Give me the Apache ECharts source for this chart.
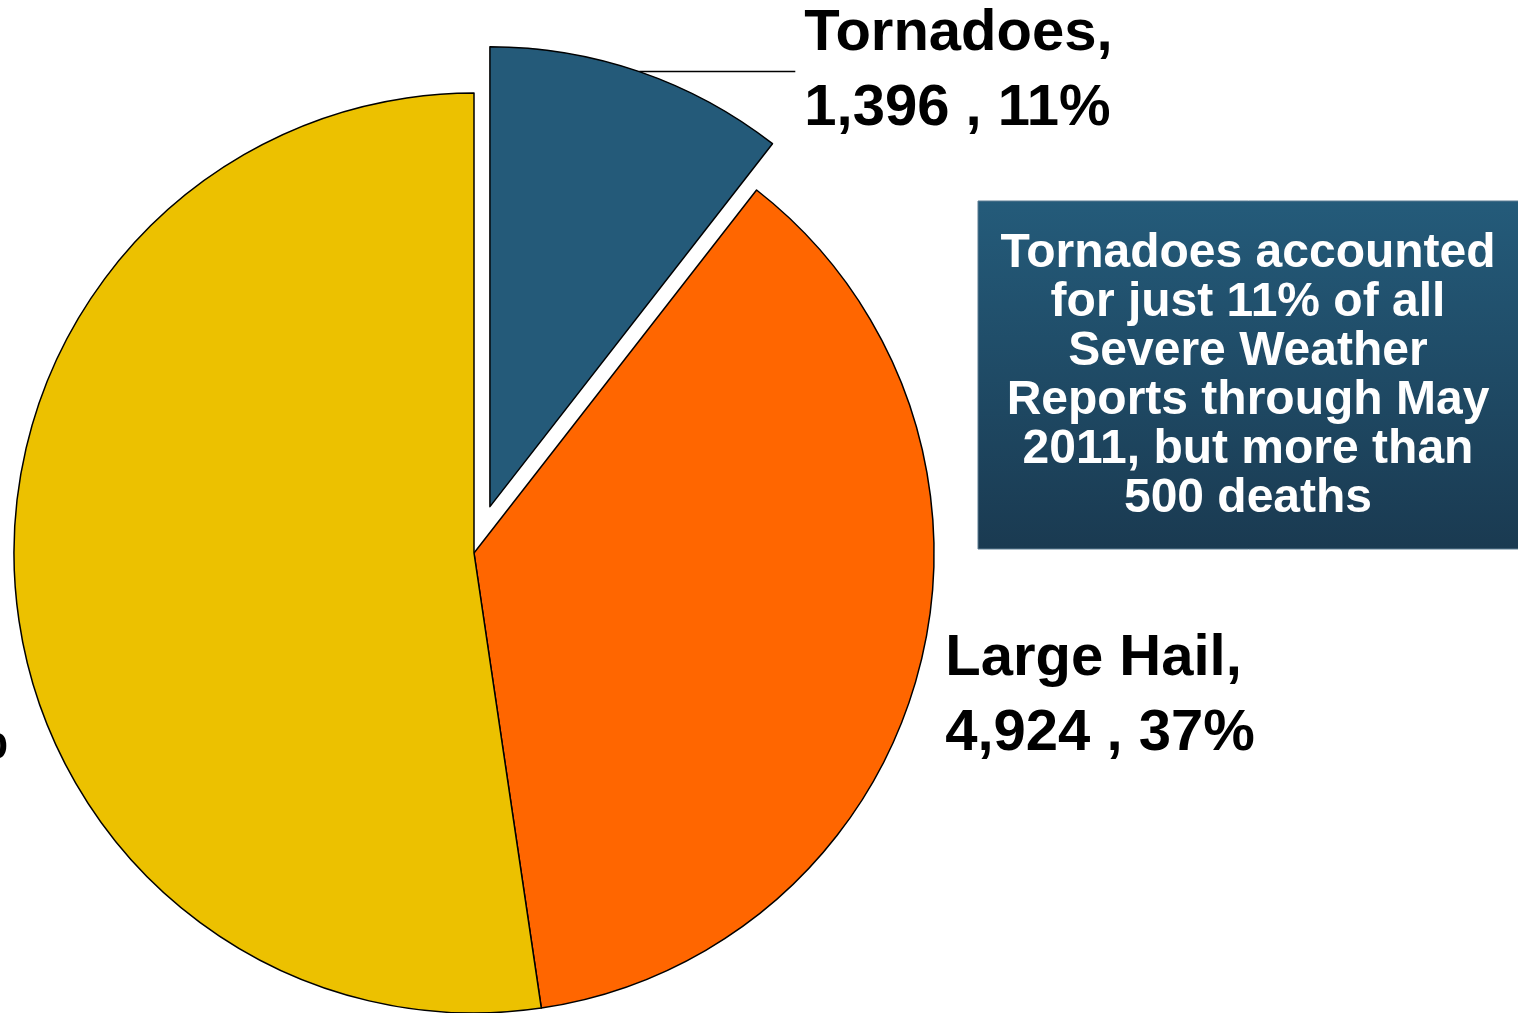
<!DOCTYPE html>
<html>
<head>
<meta charset="utf-8">
<script src="https://cdn.jsdelivr.net/npm/echarts@6/dist/echarts.min.js"></script>
<style>
html,body{margin:0;padding:0;background:#fff;}
#chart{width:1518px;height:1013px;}
</style>
</head>
<body>
<div id="chart"></div>
<script>
// ---- data ----
var categories = ['Tornadoes', 'Large Hail', 'Wind'];
var reports = [1396, 4924, 6940];
var sliceColors = ['#245a79', '#ff6600', '#ecc100'];
var noteLines = [
  'Tornadoes accounted',
  'for just 11% of all',
  'Severe Weather',
  'Reports through May',
  '2011, but more than',
  '500 deaths'
];

// ---- label placement (layout only: centre of each label block) ----
var labelPos = [
  null,
  {x: 1100, y: 696},
  {x: -147, y: 704}
];

var chart = echarts.init(document.getElementById('chart'), null, {renderer: 'canvas'});

var data = categories.map(function (c, i) {
  return {
    name: c,
    value: reports[i],
    selected: i === 0,
    itemStyle: {color: sliceColors[i]},
    labelLine: {show: i === 0}
  };
});

var option = {
  animation: false,
  backgroundColor: '#ffffff',
  series: [{
    type: 'pie',
    center: [474, 553],
    radius: [0, 460],
    startAngle: 90,
    clockwise: true,
    selectedMode: 'single',
    selectedOffset: 49,
    avoidLabelOverlap: false,
    data: data,
    itemStyle: {borderColor: '#000', borderWidth: 1.5},
    select: {itemStyle: {borderColor: '#000', borderWidth: 1.5}},
    emphasis: {disabled: true},
    label: {
      show: true,
      position: 'outside',
      alignTo: 'none',
      distanceToLabelLine: 9,
      color: '#000',
      fontFamily: 'Liberation Sans, Arial, sans-serif',
      fontWeight: 'bold',
      fontSize: 58,
      lineHeight: 75,
      formatter: function (p) {
        return p.name + ',\n' + p.value.toLocaleString('en-US') + ' , ' + Math.round(p.percent) + '%';
      }
    },
    labelLine: {
      show: true,
      length: 0,
      length2: 156,
      lineStyle: {color: '#000', width: 1.5}
    },
    labelLayout: function (params) {
      var pos = labelPos[params.dataIndex];
      if (!pos) return {};
      var w = params.labelRect.width;
      return {x: pos.x - w / 2, y: pos.y, align: 'left', verticalAlign: 'middle'};
    }
  }],
  graphic: [{
    type: 'group',
    children: [{
      type: 'rect',
      shape: {x: 978, y: 201, width: 560, height: 348},
      style: {
        fill: new echarts.graphic.LinearGradient(0, 0, 0, 1, [
          {offset: 0, color: '#245b7a'},
          {offset: 1, color: '#1a3a51'}
        ]),
        stroke: '#5d7d92',
        lineWidth: 1
      }
    }, {
      type: 'text',
      style: {
        x: 1248,
        y: 376,
        text: noteLines.join('\n'),
        fill: '#ffffff',
        font: 'bold 48px "Liberation Sans", Arial, sans-serif',
        lineHeight: 49,
        textAlign: 'center',
        textVerticalAlign: 'middle'
      }
    }]
  }]
};
chart.setOption(option);
</script>
</body>
</html>
